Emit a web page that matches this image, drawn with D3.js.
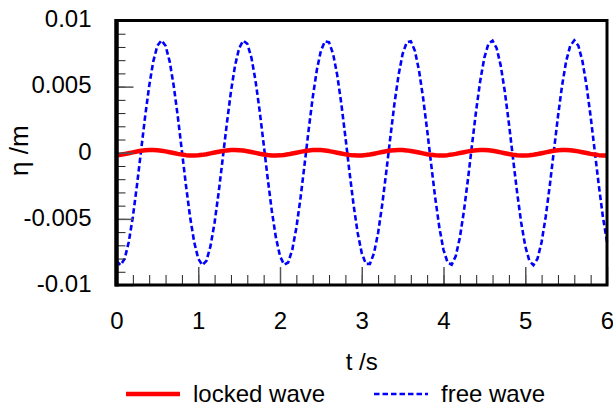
<!DOCTYPE html>
<html>
<head>
<meta charset="utf-8">
<script src="https://cdn.jsdelivr.net/npm/d3@7"></script>
<style>
    html, body { margin: 0; padding: 0; background: #fff; }
    svg { display: block; font-family: "Liberation Sans", Arial, sans-serif; }
</style>
</head>
<body>
<svg id="chart" width="613" height="405"></svg>
<script>
// sample times (s)
const time = [
    0, 0.05, 0.1, 0.15, 0.2, 0.25, 0.3, 0.35, 0.4, 0.45, 0.5,
    0.55, 0.6, 0.65, 0.7, 0.75, 0.8, 0.85, 0.9, 0.95, 1,
    1.05, 1.1, 1.15, 1.2, 1.25, 1.3, 1.35, 1.4, 1.45, 1.5,
    1.55, 1.6, 1.65, 1.7, 1.75, 1.8, 1.85, 1.9, 1.95, 2,
    2.05, 2.1, 2.15, 2.2, 2.25, 2.3, 2.35, 2.4, 2.45, 2.5,
    2.55, 2.6, 2.65, 2.7, 2.75, 2.8, 2.85, 2.9, 2.95, 3,
    3.05, 3.1, 3.15, 3.2, 3.25, 3.3, 3.35, 3.4, 3.45, 3.5,
    3.55, 3.6, 3.65, 3.7, 3.75, 3.8, 3.85, 3.9, 3.95, 4,
    4.05, 4.1, 4.15, 4.2, 4.25, 4.3, 4.35, 4.4, 4.45, 4.5,
    4.55, 4.6, 4.65, 4.7, 4.75, 4.8, 4.85, 4.9, 4.95, 5,
    5.05, 5.1, 5.15, 5.2, 5.25, 5.3, 5.35, 5.4, 5.45, 5.5,
    5.55, 5.6, 5.65, 5.7, 5.75, 5.8, 5.85, 5.9, 5.95, 6
];

// locked wave elevation (m)
const lockedWave = [
    -0.000188, -0.000150, -0.000097, -0.000036, 0.000029, 0.000092, 0.000145, 0.000185, 0.000206, 0.000208, 0.000190,
    0.000154, 0.000103, 0.000042, -0.000023, -0.000086, -0.000140, -0.000181, -0.000205, -0.000209, -0.000193,
    -0.000159, -0.000109, -0.000049, 0.000016, 0.000080, 0.000135, 0.000178, 0.000204, 0.000210, 0.000196,
    0.000163, 0.000114, 0.000055, -0.000010, -0.000074, -0.000130, -0.000174, -0.000202, -0.000210, -0.000198,
    -0.000167, -0.000120, -0.000061, 0.000003, 0.000067, 0.000125, 0.000171, 0.000200, 0.000210, 0.000200,
    0.000171, 0.000125, 0.000067, 0.000003, -0.000061, -0.000120, -0.000167, -0.000198, -0.000210, -0.000202,
    -0.000174, -0.000130, -0.000073, -0.000010, 0.000055, 0.000114, 0.000163, 0.000196, 0.000210, 0.000204,
    0.000178, 0.000135, 0.000080, 0.000016, -0.000049, -0.000109, -0.000159, -0.000193, -0.000209, -0.000205,
    -0.000181, -0.000140, -0.000086, -0.000023, 0.000042, 0.000103, 0.000154, 0.000190, 0.000208, 0.000206,
    0.000184, 0.000145, 0.000091, 0.000029, -0.000036, -0.000098, -0.000150, -0.000188, -0.000207, -0.000207,
    -0.000187, -0.000149, -0.000097, -0.000036, 0.000029, 0.000092, 0.000145, 0.000185, 0.000206, 0.000208,
    0.000190, 0.000154, 0.000103, 0.000042, -0.000023, -0.000086, -0.000140, -0.000181, -0.000205, -0.000209
];

// free wave elevation (m)
const freeWave = [
    -0.00817, -0.00850, -0.00801, -0.00675, -0.00485, -0.00248, 0.00013, 0.00273, 0.00506, 0.00691, 0.00809,
    0.00850, 0.00809, 0.00691, 0.00506, 0.00273, 0.00013, -0.00248, -0.00485, -0.00675, -0.00801,
    -0.00850, -0.00817, -0.00706, -0.00527, -0.00298, -0.00040, 0.00222, 0.00463, 0.00659, 0.00791,
    0.00848, 0.00824, 0.00720, 0.00547, 0.00322, 0.00066, -0.00197, -0.00440, -0.00642, -0.00781,
    -0.00846, -0.00830, -0.00734, -0.00568, -0.00347, -0.00092, 0.00171, 0.00417, 0.00624, 0.00771,
    0.00843, 0.00835, 0.00747, 0.00587, 0.00371, 0.00119, -0.00145, -0.00394, -0.00606, -0.00759,
    -0.00840, -0.00840, -0.00759, -0.00606, -0.00394, -0.00145, 0.00119, 0.00371, 0.00587, 0.00747,
    0.00835, 0.00843, 0.00771, 0.00624, 0.00417, 0.00171, -0.00092, -0.00347, -0.00568, -0.00734,
    -0.00830, -0.00846, -0.00781, -0.00642, -0.00440, -0.00197, 0.00066, 0.00322, 0.00547, 0.00720,
    0.00824, 0.00848, 0.00791, 0.00659, 0.00463, 0.00222, -0.00040, -0.00298, -0.00527, -0.00706,
    -0.00817, -0.00850, -0.00801, -0.00675, -0.00485, -0.00248, 0.00013, 0.00273, 0.00506, 0.00691,
    0.00809, 0.00850, 0.00809, 0.00691, 0.00506, 0.00273, 0.00013, -0.00248, -0.00485, -0.00675
];

const xTicks = [0, 1, 2, 3, 4, 5, 6];
const yTicks = [-0.01, -0.005, 0, 0.005, 0.01];
const yTickLabels = ["-0.01", "-0.005", "0", "0.005", "0.01"];
const seriesNames = ["locked wave", "free wave"];

const svg = d3.select("#chart");
const margin = { top: 20.5, right: 6, bottom: 120, left: 116.5 };
const width = 613 - margin.left - margin.right;
const height = 405 - margin.top - margin.bottom;
const fontSize = 24;

const x = d3.scaleLinear().domain([0, 6]).range([0, width]);
const y = d3.scaleLinear().domain([-0.01, 0.01]).range([height, 0]);

const g = svg.append("g")
    .attr("transform", `translate(${margin.left},${margin.top})`);

// 曲线
const line = d3.line()
    .x((d, i) => x(time[i]))
    .y((d) => y(d));

g.append("path")
    .datum(freeWave)
    .attr("fill", "none")
    .attr("stroke", "#0000ff")
    .attr("stroke-width", 2.6)
    .attr("stroke-dasharray", "5.5,3")
    .attr("d", line);

g.append("path")
    .datum(lockedWave)
    .attr("fill", "none")
    .attr("stroke", "#ff0000")
    .attr("stroke-width", 4.5)
    .attr("stroke-linejoin", "round")
    .attr("d", line);

// 次刻度
const xMinor = g.append("g")
    .attr("transform", `translate(0,${height})`)
    .call(d3.axisBottom(x).ticks(30).tickSize(-10).tickFormat(""));
const yMinor = g.append("g")
    .call(d3.axisLeft(y).ticks(20).tickSize(-9).tickFormat(""));
[xMinor, yMinor].forEach((a) => {
    a.select(".domain").remove();
    a.selectAll("line").attr("stroke", "#222").attr("stroke-width", 1);
});

// 主刻度 + 标签
const xAxis = g.append("g")
    .attr("transform", `translate(0,${height})`)
    .call(d3.axisBottom(x).tickValues(xTicks).tickSize(-18).tickPadding(27).tickFormat(d3.format("d")));
const yAxis = g.append("g")
    .call(d3.axisLeft(y).tickValues(yTicks).tickSize(-17).tickPadding(25)
        .tickFormat((d, i) => yTickLabels[i]));
[xAxis, yAxis].forEach((a) => {
    a.select(".domain").remove();
    a.selectAll("line").attr("stroke", "#555").attr("stroke-width", 1.5);
    a.selectAll("text")
        .attr("fill", "#000")
        .style("font-size", fontSize + "px")
        .style("font-family", "'Liberation Sans', Arial, sans-serif");
});
yAxis.selectAll("text").attr("dy", "0.26em");
xAxis.selectAll("text").attr("dy", "0.71em");

// 边框
g.append("rect")
    .attr("x", 0).attr("y", 0)
    .attr("width", width).attr("height", height)
    .attr("fill", "none")
    .attr("stroke", "#000")
    .attr("stroke-width", 3);
g.append("line")
    .attr("x1", 0).attr("x2", 0)
    .attr("y1", -1.5).attr("y2", height + 1.5)
    .attr("stroke", "#000")
    .attr("stroke-width", 4.5);

// 轴标题
svg.append("text")
    .attr("transform", `translate(28,${margin.top + y(0) - 2}) rotate(-90)`)
    .attr("text-anchor", "middle")
    .style("font-size", "26px")
    .text("η /m");

svg.append("text")
    .attr("x", margin.left + width / 2)
    .attr("y", 370)
    .attr("text-anchor", "middle")
    .style("font-size", fontSize + "px")
    .text("t /s");

// 图例
const legend = svg.append("g").attr("transform", "translate(0,394)");
const legendItems = [
    { x: 126, color: "#ff0000", width: 4.5, dash: null },
    { x: 374, color: "#0000ff", width: 2.6, dash: "5.5,3" },
];
legendItems.forEach((item, i) => {
    legend.append("line")
        .attr("x1", item.x).attr("x2", item.x + 54)
        .attr("y1", 0).attr("y2", 0)
        .attr("stroke", item.color)
        .attr("stroke-width", item.width)
        .attr("stroke-dasharray", item.dash);
    legend.append("text")
        .attr("x", item.x + 67)
        .attr("y", 7.5)
        .style("font-size", fontSize + "px")
        .text(seriesNames[i]);
});
</script>
</body>
</html>
